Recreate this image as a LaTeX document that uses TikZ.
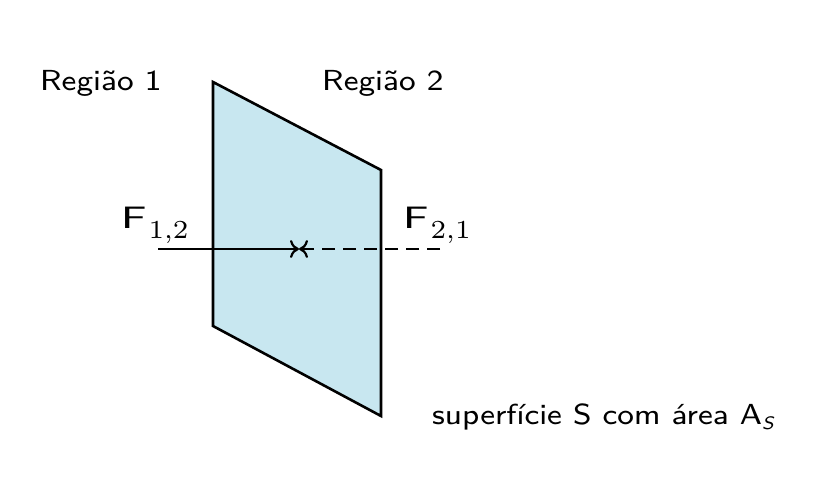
\documentclass[tikz,border=0pt]{standalone}
\usepackage{fontspec}
\setsansfont{lmsans8-regular.otf}[ItalicFont=lmsans8-oblique.otf]
\newfontfamily\subfont{lmroman7-regular.otf}
\usetikzlibrary{arrows.meta}
\definecolor{surf}{RGB}{200,231,240}
\tikzset{
  lbl/.style={anchor=base west, inner sep=0pt, font=\fontsize{29}{35}\selectfont\sffamily},
  flbl/.style={anchor=base west, inner sep=0pt},
  edge/.style={line width=2.6pt},
  force/.style={line width=2.2pt, -{Computer Modern Rightarrow[length=9pt,width=18pt]}},
}
\newcommand{\wide}[1]{\scalebox{1.08}[1]{#1}}
\newcommand{\flabel}[1]{\scalebox{1.35}[1]{\fontsize{31}{37}\selectfont\sffamily F}\hspace{2pt}\raisebox{-10pt}{\scalebox{1.05}[1]{\fontsize{26}{31}\selectfont\subfont #1}}}
\begin{document}
\begin{tikzpicture}[x=1pt,y=-1pt]
\useasboundingbox (0,0) rectangle (834,485);
% surface
\coordinate (p1) at (213,82);
\coordinate (p2) at (381,170);
\coordinate (p3) at (381,416);
\coordinate (p4) at (213,326);
\filldraw[edge, fill=surf, line join=miter] (p1) -- (p2) -- (p3) -- (p4) -- cycle;
% labels
\node[lbl] (r1) at (40,90) {\wide{Região 1}};
\node[lbl] (r2) at (322,90) {\wide{Região 2}};
\node[lbl] (sup) at (432,424) {\wide{superfície S com área A\raisebox{-5pt}{\fontsize{18}{22}\selectfont\itshape S}}};
\node[flbl] (f12) at (121,228) {\flabel{1,2}};
\node[flbl] (f21) at (403,228) {\flabel{2,1}};
% forces
\coordinate (a1) at (158,249);
\coordinate (m) at (299,249);
\coordinate (a2) at (440,249);
\draw[force] (a1) -- (m);
\draw[force, dash pattern=on 13pt off 8pt] (a2) -- (m);
\end{tikzpicture}
\end{document}
